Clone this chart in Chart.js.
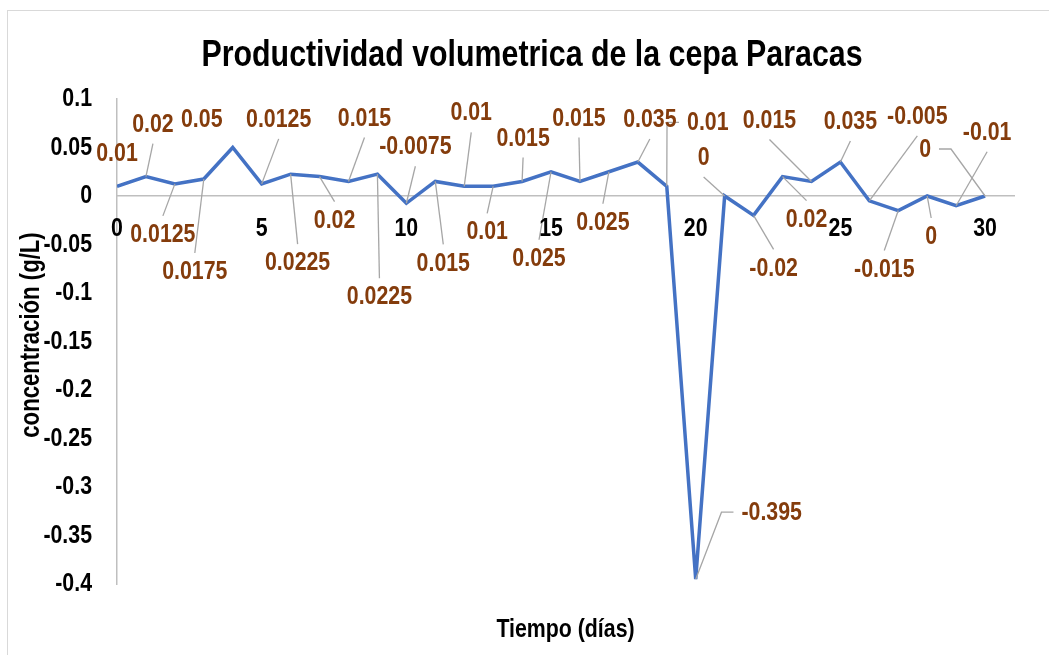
<!DOCTYPE html>
<html>
<head>
<meta charset="utf-8">
<script src="https://cdn.jsdelivr.net/npm/chart.js@4.4.1/dist/chart.umd.min.js"></script>
<style>
    body { margin: 0; background: #fff; overflow: hidden; }
    .chart_frame {
        position: absolute;
        left: 7px;
        top: 10px;
        width: 1200px;
        height: 800px;
        border: 1px solid #d9d9d9;
    }
    .chart_box {
        position: absolute;
        left: 0;
        top: 0;
        width: 1049px;
        height: 655px;
    }
</style>
</head>
<body>
<div class="chart_frame"></div>
<div class="chart_box"><canvas id="productividad"></canvas></div>
<script>
const DIAS = [0, 1, 2, 3, 4, 5, 6, 7, 8, 9, 10, 11, 12, 13, 14, 15, 16, 17, 18, 19, 20, 21, 22, 23, 24, 25, 26, 27, 28, 29, 30];
const PRODUCTIVIDAD = [0.01, 0.02, 0.0125, 0.0175, 0.05, 0.0125, 0.0225, 0.02, 0.015, 0.0225, -0.0075, 0.015, 0.01, 0.01, 0.015, 0.025, 0.015, 0.025, 0.035, 0.01, -0.395, 0, -0.02, 0.02, 0.015, 0.035, -0.005, -0.015, 0, -0.01, 0];
const X_TICKS = [0, 5, 10, 15, 20, 25, 30];
const Y_TICKS = [0.1, 0.05, 0, -0.05, -0.1, -0.15, -0.2, -0.25, -0.3, -0.35, -0.4];

const TITLE = "Productividad volumetrica de la cepa Paracas";
const X_TITLE = "Tiempo (días)";
const Y_TITLE = "concentración (g/L)";

// where each data label sits relative to its point (dx, dy, leader type)
const LABEL_POS = [
    [0, -32, "none"], [7, -52, "v"], [-12, 51, "v"], [-9, 93, "v"], [-31, -28, "none"],
    [17, -64, "v"], [7, 89, "v"], [15, 44, "v"], [16, -63, "v"], [2, 123, "v"],
    [9, -56, "v"], [8, 82, "v"], [7, -73, "v"], [-6, 46, "v"], [1, -43, "v"],
    [-12, 87, "v"], [-1, -63, "v"], [-6, 51, "v"], [12, -42, "v"], [41, -63, "h"],
    [76, -66, "h"], [-21, -38, "v"], [20, 53, "v"], [24, 43, "v"], [-42, -61, "v"],
    [10, -40, "v"], [48, -84, "v"], [-14, 59, "v"], [4, 41, "v"], [31, -73, "v"],
    [-60, -46, "h"],
];

// no narrow font installed, so squeeze Liberation Sans by hand
const FONT = "'Liberation Sans', Arial, sans-serif";
const NARROW = 0.82;

function narrowText(ctx, text, x, y, size, color, align, rotate) {
    ctx.save();
    ctx.font = "bold " + size + "px " + FONT;
    ctx.fillStyle = color;
    ctx.textAlign = align;
    ctx.textBaseline = "middle";
    ctx.translate(x, y);
    if (rotate) ctx.rotate(rotate);
    ctx.scale(NARROW, 1);
    ctx.fillText(text, 0, 0);
    ctx.restore();
}

function narrowWidth(ctx, text, size) {
    ctx.save();
    ctx.font = "bold " + size + "px " + FONT;
    const w = ctx.measureText(text).width * NARROW;
    ctx.restore();
    return w;
}

const textPlugin = {
    id: "allText",
    afterDraw(chart) {
        const ctx = chart.ctx;
        const xs = chart.scales.x;
        const ys = chart.scales.y;
        const zeroY = ys.getPixelForValue(0);

        narrowText(ctx, TITLE, 532, 56, 37, "#000", "center");

        X_TICKS.forEach((v) => {
            narrowText(ctx, String(v), xs.getPixelForValue(v), zeroY + 33, 26, "#000", "center");
        });
        Y_TICKS.forEach((v) => {
            narrowText(ctx, String(v), chart.chartArea.left - 25, ys.getPixelForValue(v), 26, "#000", "right");
        });

        const area = chart.chartArea;
        narrowText(ctx, X_TITLE, (area.left + area.right) / 2, 630, 26, "#000", "center");
        narrowText(ctx, Y_TITLE, 32, 335, 27, "#000", "center", -Math.PI / 2);
    },
};

const labelPlugin = {
    id: "dataLabels",
    afterDatasetsDraw(chart) {
        const ctx = chart.ctx;
        const meta = chart.getDatasetMeta(0);
        ctx.save();
        ctx.strokeStyle = "#a6a6a6";
        ctx.lineWidth = 1.3;
        meta.data.forEach((pt, i) => {
            const [dx, dy, kind] = LABEL_POS[i];
            const w = narrowWidth(ctx, String(PRODUCTIVIDAD[i]), 26);
            const cx = pt.x + dx;
            const cy = pt.y + dy;
            ctx.beginPath();
            if (kind === "v") {
                ctx.moveTo(pt.x, pt.y);
                ctx.lineTo(cx, cy + (dy > 0 ? -19 : 19));
            } else if (kind === "h") {
                const endX = dx > 0 ? cx - w / 2 - 8 : cx + w / 2 + 8;
                const bendX = dx > 0 ? endX - 12 : endX + 12;
                ctx.moveTo(pt.x, pt.y);
                ctx.lineTo(bendX, cy - 1);
                ctx.lineTo(endX, cy - 1);
            }
            ctx.stroke();
        });
        ctx.restore();
        meta.data.forEach((pt, i) => {
            const [dx, dy] = LABEL_POS[i];
            narrowText(ctx, String(PRODUCTIVIDAD[i]), pt.x + dx, pt.y + dy, 26, "#843c0c", "center");
        });
    },
};

new Chart(document.getElementById("productividad"), {
    type: "line",
    data: {
        datasets: [
            {
                label: "Productividad",
                data: DIAS.map((d, i) => ({ x: d, y: PRODUCTIVIDAD[i] })),
                borderColor: "#4472c4",
                borderWidth: 3.5,
                pointRadius: 0,
                tension: 0,
                fill: false,
            },
        ],
    },
    options: {
        responsive: true,
        maintainAspectRatio: false,
        animation: false,
        layout: { padding: { top: 99, right: 35, left: 0, bottom: 71 } },
        plugins: {
            legend: { display: false },
            tooltip: { enabled: false },
            title: { display: false },
        },
        scales: {
            x: {
                type: "linear",
                position: { y: 0 },
                min: 0,
                max: 31,
                afterBuildTicks: (scale) => {
                    scale.ticks = X_TICKS.map((v) => ({ value: v }));
                },
                grid: { display: false, drawTicks: false },
                border: { display: true, color: "#bfbfbf", width: 1.5 },
                ticks: { display: false },
            },
            y: {
                min: -0.4,
                max: 0.1,
                afterBuildTicks: (scale) => {
                    scale.ticks = Y_TICKS.map((v) => ({ value: v }));
                },
                afterFit: (scale) => {
                    scale.width = 117;
                },
                grid: { display: false, drawTicks: false },
                border: { display: true, color: "#bfbfbf", width: 1.5 },
                ticks: { display: false },
            },
        },
    },
    plugins: [textPlugin, labelPlugin],
});
</script>
</body>
</html>
